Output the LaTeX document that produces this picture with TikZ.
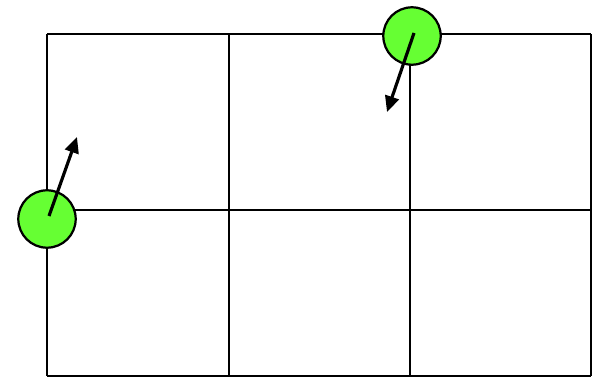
\documentclass[tikz,border=0pt]{standalone}
\usetikzlibrary{arrows.meta}
\definecolor{ballgreen}{HTML}{66FF33}
\tikzset{
    gridline/.style={line width=1.8pt, black},
    ball/.style={circle, draw=black, line width=1.9pt, fill=ballgreen, minimum size=49pt, inner sep=0pt},
    velocity/.style={line width=2.7pt, -{Triangle[length=13.5pt, width=12pt]}}
}
\begin{document}
\begin{tikzpicture}[x=0.03cm, y=-0.03cm]
    \useasboundingbox (0,0) rectangle (596,377);

    % cells
    \foreach \xa in {47,229,410,591}
        \draw[gridline] (\xa,34) -- (\xa,376);
    \foreach \ya in {34,210,376}
        \draw[gridline] (47,\ya) -- (591,\ya);

    % balls and their velocities
    \node[ball] (ballA) at (47,219) {};
    \node[ball] (ballB) at (412,36) {};
    \coordinate (headA) at (77,137);
    \coordinate (headB) at (387,112);

    \draw[velocity] ([shift={(2,-3)}]ballA.center) -- (headA);
    \draw[velocity] ([shift={(2,-3)}]ballB.center) -- (headB);
\end{tikzpicture}
\end{document}
